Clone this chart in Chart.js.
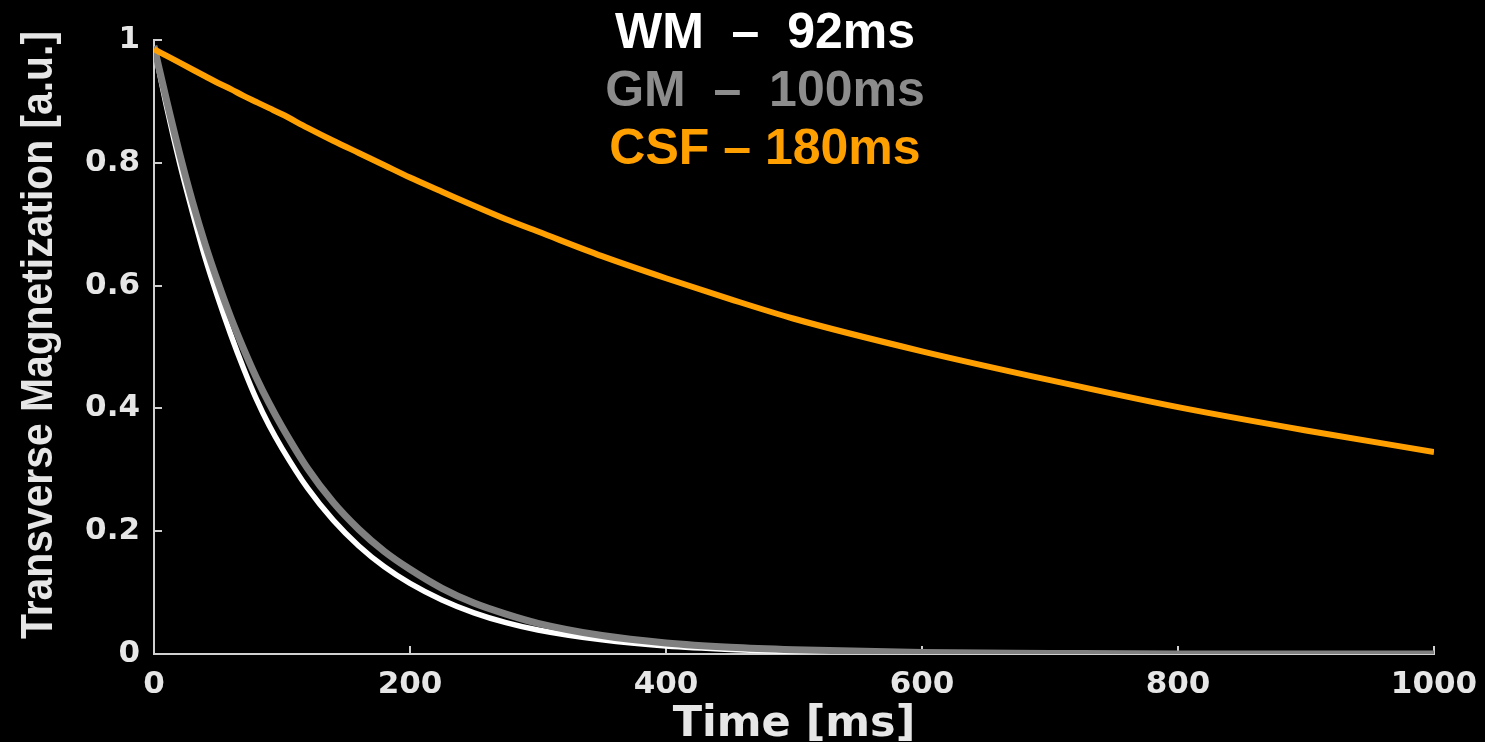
<!DOCTYPE html>
<html lang="en">

<head>
    <meta charset="UTF-8">
    <title>T2 decay</title>
    <script src="https://cdn.jsdelivr.net/npm/chart.js"></script>
    <style>
        html, body {
            margin: 0;
            padding: 0;
            background-color: #000;
        }

        .chart-box {
            width: 1485px;
            height: 742px;
        }
    </style>
</head>

<body>
    <div class="chart-box">
        <canvas id="decayChart"></canvas>
    </div>

    <script>
        // values
        const timeMs = [0, 10, 20, 30, 40, 50, 60, 70, 80, 90, 100, 120, 140, 160, 180, 200, 225, 250, 275, 300, 350, 400, 450, 500, 600, 700, 800, 900, 1000];
        const wmSignal = [0.99, 0.89, 0.80, 0.72, 0.645, 0.58, 0.52, 0.465, 0.415, 0.372, 0.335, 0.27, 0.218, 0.176, 0.142, 0.115, 0.088, 0.067, 0.051, 0.039, 0.023, 0.013, 0.0075, 0.0045, 0.0015, 0.0005, 0, 0, 0];
        const gmSignal = [0.99, 0.90, 0.815, 0.737, 0.667, 0.605, 0.548, 0.497, 0.45, 0.408, 0.37, 0.302, 0.247, 0.203, 0.167, 0.138, 0.107, 0.083, 0.065, 0.05, 0.03, 0.018, 0.011, 0.007, 0.0025, 0.001, 0, 0, 0];
        const csfSignal = [0.985, 0.974, 0.963, 0.952, 0.941, 0.93, 0.92, 0.909, 0.899, 0.889, 0.879, 0.857, 0.836, 0.816, 0.796, 0.776, 0.753, 0.73, 0.708, 0.688, 0.648, 0.612, 0.578, 0.546, 0.493, 0.446, 0.402, 0.364, 0.329];

        const xTicks = [0, 200, 400, 600, 800, 1000];
        const yTicks = [0, 0.2, 0.4, 0.6, 0.8, 1];

        const legendLines = ["WM  \u2013  92ms", "GM  \u2013  100ms", "CSF \u2013 180ms"];
        const legendColors = ["#ffffff", "#8c8c8c", "#ffa000"];

        const axisColor = "#d0d0d0";
        const labelColor = "#e6e6e6";

        function toPoints(values) {
            return timeMs.map((t, i) => ({ x: t, y: values[i] }));
        }

        // title block sits over the plot, and the y title is condensed like the original
        const overlayText = {
            id: "overlayText",
            afterDraw(chart) {
                const ctx = chart.ctx;
                ctx.save();
                ctx.font = "bold 50px 'Liberation Sans', Arial, sans-serif";
                ctx.textAlign = "center";
                ctx.textBaseline = "alphabetic";
                legendLines.forEach((line, i) => {
                    ctx.fillStyle = legendColors[i];
                    ctx.fillText(line, 765, 48 + i * 58);
                });
                ctx.restore();

                const yTitle = "Transverse Magnetization [a.u.]";
                ctx.save();
                ctx.font = "bold 44px 'Liberation Sans', Arial, sans-serif";
                const w = ctx.measureText(yTitle).width;
                ctx.translate(40, 335);
                ctx.rotate(-Math.PI / 2);
                ctx.scale(608 / w, 1);
                ctx.fillStyle = labelColor;
                ctx.textAlign = "center";
                ctx.textBaseline = "middle";
                ctx.fillText(yTitle, 0, 0);
                ctx.restore();
            }
        };

        new Chart(document.getElementById("decayChart"), {
            type: "line",
            data: {
                datasets: [
                    {
                        label: "CSF",
                        data: toPoints(csfSignal),
                        borderColor: "#ffa000",
                        borderWidth: 6,
                        order: 0
                    },
                    {
                        label: "GM",
                        data: toPoints(gmSignal),
                        borderColor: "#808080",
                        borderWidth: 7,
                        order: 1
                    },
                    {
                        label: "WM",
                        data: toPoints(wmSignal),
                        borderColor: "#ffffff",
                        borderWidth: 5.5,
                        order: 2
                    }
                ]
            },
            options: {
                responsive: true,
                maintainAspectRatio: false,
                animation: false,
                layout: {
                    padding: { top: 40, right: 51, left: 0, bottom: 0 }
                },
                elements: {
                    point: { radius: 0 },
                    line: { cubicInterpolationMode: "monotone", borderCapStyle: "butt" }
                },
                plugins: {
                    legend: { display: false },
                    tooltip: { enabled: false }
                },
                scales: {
                    x: {
                        type: "linear",
                        min: 0,
                        max: 1000,
                        afterFit(scale) {
                            scale.height = 88;
                            scale.paddingLeft = 0;
                            scale.paddingRight = 0;
                        },
                        afterBuildTicks(scale) {
                            scale.ticks = xTicks.map(v => ({ value: v }));
                        },
                        border: { color: axisColor, width: 2 },
                        grid: {
                            drawOnChartArea: false,
                            color: axisColor,
                            lineWidth: 2,
                            tickLength: -8
                        },
                        ticks: {
                            color: labelColor,
                            padding: 20,
                            maxRotation: 0,
                            font: { family: "'DejaVu Sans'", weight: "bold", size: 31 },
                            callback: v => String(v)
                        },
                        title: {
                            display: true,
                            text: "Time [ms]",
                            color: labelColor,
                            padding: { top: 0, bottom: -4 },
                            font: { family: "'DejaVu Sans'", weight: "bold", size: 43, lineHeight: 1 }
                        }
                    },
                    y: {
                        min: 0,
                        max: 1,
                        afterFit(scale) {
                            scale.width = 154;
                            scale.paddingTop = 0;
                            scale.paddingBottom = 0;
                        },
                        afterBuildTicks(scale) {
                            scale.ticks = yTicks.map(v => ({ value: v }));
                        },
                        border: { color: axisColor, width: 2 },
                        grid: {
                            drawOnChartArea: false,
                            color: axisColor,
                            lineWidth: 2,
                            tickLength: -8
                        },
                        ticks: {
                            color: labelColor,
                            padding: 22,
                            font: { family: "'DejaVu Sans'", weight: "bold", size: 31 },
                            callback: v => String(v)
                        }
                    }
                }
            },
            plugins: [overlayText]
        });
    </script>
</body>

</html>
